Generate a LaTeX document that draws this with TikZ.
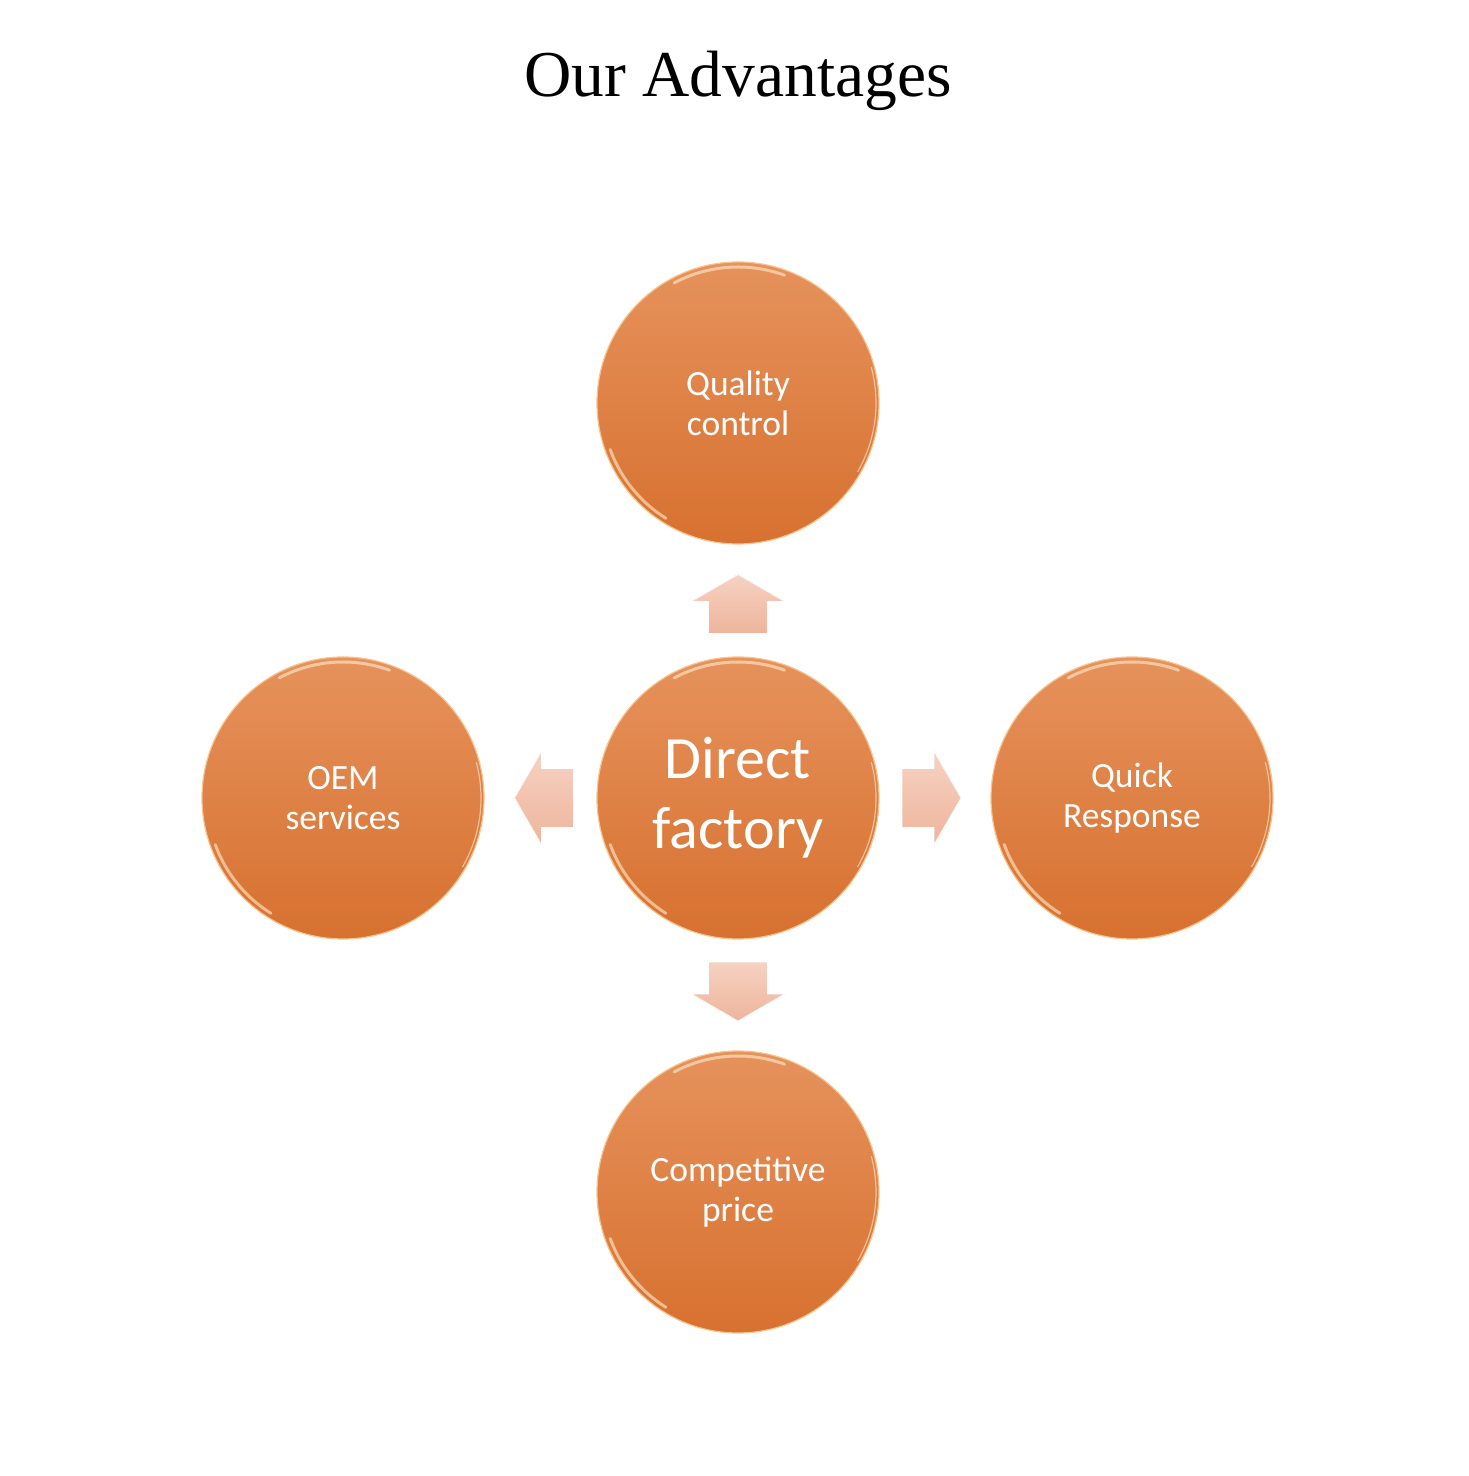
\documentclass[tikz,border=0pt]{standalone}
\usepackage{fontspec}
\setmainfont{Liberation Serif}
\newfontfamily\carlito{Carlito}
\usetikzlibrary{calc}
\definecolor{orTop}{RGB}{230,146,92}
\definecolor{orBot}{RGB}{215,113,48}
\definecolor{rimc}{RGB}{246,196,140}
\definecolor{glint}{RGB}{255,236,205}
\definecolor{arTop}{RGB}{246,210,194}
\definecolor{arBot}{RGB}{238,180,156}
\tikzset{
  adv/.style={circle, minimum size=282pt, inner sep=0pt, top color=orTop, bottom color=orBot,
    draw=rimc, line width=1.2pt, text=white, align=center,
    font=\carlito\fontsize{35.5}{40}\selectfont},
  big/.style={font=\carlito\fontsize{60}{70}\selectfont},
  blockarrow/.pic={
    \fill[top color=arTop, bottom color=arBot, draw=white, line width=0.8pt]
      (-29,-29.5) -- (3,-29.5) -- (3,-46.5) -- (30,0) -- (3,46.5) -- (3,29.5) -- (-29,29.5) -- cycle;
  },
  glintline/.style={draw=glint, line width=3pt, line cap=round, opacity=0.6}
}
\begin{document}
\begin{tikzpicture}[x=1pt,y=1pt]
\useasboundingbox (0,0) rectangle (1468,1476);
\node[font=\fontsize{65.5}{70}\selectfont] (title) at (738,1395) {Our Advantages};
\node[adv, big] (c) at (738,678) {Direct\\factory};
\node[adv] (q) at (738,1073) {Quality\\control};
\node[adv] (o) at (343,678) {OEM\\services};
\node[adv] (r) at (1132,678) {Quick\\Response};
\node[adv] (p) at (738,284) {Competitive\\price};
\foreach \n in {c,q,o,r,p}{
  \draw[glintline] ($(\n)+(118:136)$) arc (118:70:136);
  \draw[glintline] ($(\n)+(200:136)$) arc (200:238:136);
  \draw[draw=glint, line width=1.2pt, opacity=0.6] ($(\n)+(15:138)$) arc (15:-30:138);
}
\pic[rotate=90] at ($(c)!0.49!(q)$) {blockarrow};
\pic[rotate=-90] at ($(c)!0.49!(p)$) {blockarrow};
\pic[rotate=180] at ($(c)!0.49!(o)$) {blockarrow};
\pic at ($(c)!0.49!(r)$) {blockarrow};
\end{tikzpicture}
\end{document}
